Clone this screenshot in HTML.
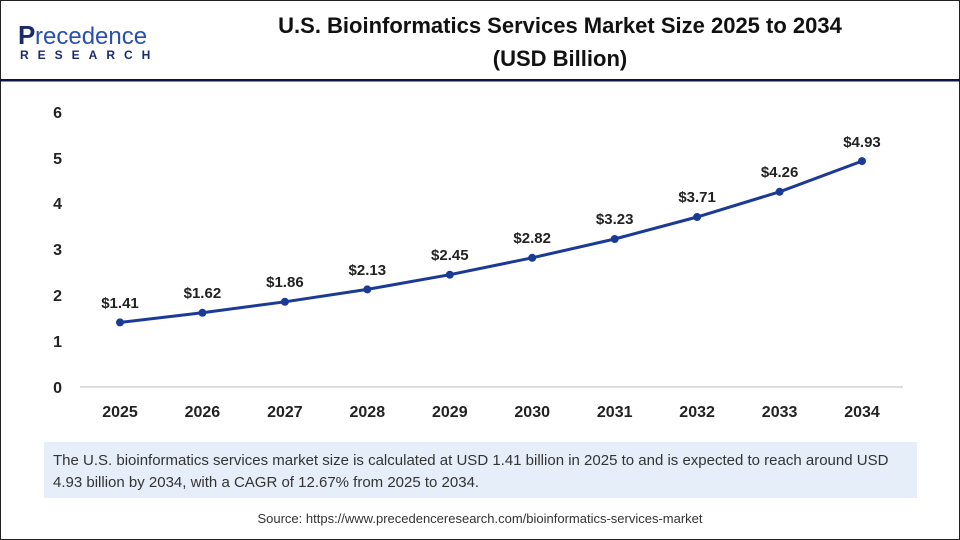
<!DOCTYPE html>
<html><head><meta charset="utf-8"><style>
body{margin:0;width:960px;height:540px;overflow:hidden;background:#fff;font-family:"Liberation Sans",Arial,sans-serif}
.frame{position:absolute;left:0;top:0;width:958px;height:538px;border:1px solid #222}
</style></head><body>
<div class="frame"></div>
<svg width="960" height="540" style="position:absolute;left:0;top:0" font-family="Liberation Sans, Arial, sans-serif">
<text x="18" y="44" font-size="26" fill="#1b2a6b" font-weight="bold">P</text>
<text x="35" y="44" font-size="24" fill="#2a4fb0">recedence</text>
<text x="20" y="59" font-size="12" fill="#1b2a6b" font-weight="bold" letter-spacing="9">RESEARCH</text>
<text x="560" y="33" font-size="22" font-weight="bold" text-anchor="middle" fill="#111">U.S. Bioinformatics Services Market Size 2025 to 2034</text>
<text x="560" y="66" font-size="22" font-weight="bold" text-anchor="middle" fill="#111">(USD Billion)</text>
<rect x="0" y="79" width="960" height="2.5" fill="#0d1440"/>
<line x1="80" y1="387" x2="903" y2="387" stroke="#bbb" stroke-width="1"/>
<g font-size="16" font-weight="bold" fill="#222" text-anchor="end">
<text x="62" y="393">0</text><text x="62" y="347">1</text><text x="62" y="301">2</text><text x="62" y="255">3</text><text x="62" y="209">4</text><text x="62" y="164">5</text><text x="62" y="118">6</text>
</g>
<g font-size="16" font-weight="bold" fill="#222" text-anchor="middle">
<text x="120" y="417">2025</text><text x="202.4" y="417">2026</text><text x="284.9" y="417">2027</text><text x="367.3" y="417">2028</text><text x="449.8" y="417">2029</text><text x="532.2" y="417">2030</text><text x="614.7" y="417">2031</text><text x="697.1" y="417">2032</text><text x="779.6" y="417">2033</text><text x="862" y="417">2034</text>
</g>
<polyline fill="none" stroke="#1a3a96" stroke-width="3" points="120,322.4 202.4,312.8 284.9,301.8 367.3,289.4 449.8,274.7 532.2,257.8 614.7,239 697.1,217 779.6,191.8 862,161.1"/>
<g fill="#1a3a96">
<circle cx="120" cy="322.4" r="4"/><circle cx="202.4" cy="312.8" r="4"/><circle cx="284.9" cy="301.8" r="4"/><circle cx="367.3" cy="289.4" r="4"/><circle cx="449.8" cy="274.7" r="4"/><circle cx="532.2" cy="257.8" r="4"/><circle cx="614.7" cy="239" r="4"/><circle cx="697.1" cy="217" r="4"/><circle cx="779.6" cy="191.8" r="4"/><circle cx="862" cy="161.1" r="4"/>
</g>
<g font-size="15" font-weight="bold" fill="#222" text-anchor="middle">
<text x="120" y="308">$1.41</text><text x="202.4" y="298">$1.62</text><text x="284.9" y="287">$1.86</text><text x="367.3" y="275">$2.13</text><text x="449.8" y="260">$2.45</text><text x="532.2" y="243">$2.82</text><text x="614.7" y="224">$3.23</text><text x="697.1" y="202">$3.71</text><text x="779.6" y="177">$4.26</text><text x="862" y="147">$4.93</text>
</g>
<rect x="44" y="442" width="873" height="56" fill="#e6eef9"/>
<text x="53" y="465" font-size="15" fill="#333">The U.S. bioinformatics services market size is calculated at USD 1.41 billion in 2025 to and is expected to reach around USD</text>
<text x="53" y="487" font-size="15" fill="#333">4.93 billion by 2034, with a CAGR of 12.67% from 2025 to 2034.</text>
<text x="480" y="523" font-size="13" fill="#333" text-anchor="middle">Source: https://www.precedenceresearch.com/bioinformatics-services-market</text>
</svg>
</body></html>
